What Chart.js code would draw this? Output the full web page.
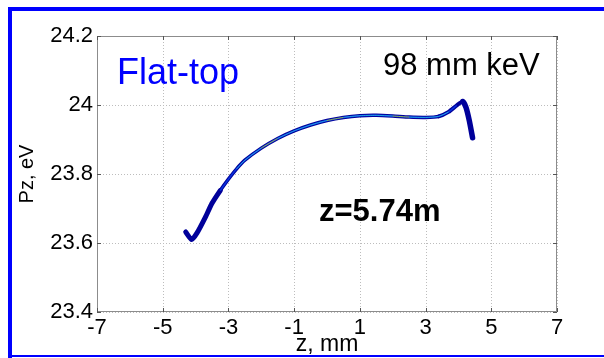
<!DOCTYPE html>
<html>
<head>
<meta charset="utf-8">
<script src="https://cdn.jsdelivr.net/npm/chart.js@4"></script>
<style>
  html, body { margin: 0; padding: 0; background: #fff; }
  #wrap { width: 604px; height: 358px; }
</style>
</head>
<body>
<div id="wrap"><canvas id="pzChart" width="604" height="358"></canvas></div>
<script>
// longitudinal phase space (band centre)
const zMm = [-4.30, -4.12, -3.95, -3.70, -3.50, -3.25, -3.00, -2.75, -2.50, -2.00, -1.50, -1.00, -0.50, 0.00, 0.50, 1.00, 1.50, 2.00, 2.50, 3.00, 3.40, 3.70, 3.95, 4.13, 4.23, 4.33, 4.43];
const pzEv = [23.632, 23.610, 23.630, 23.675, 23.715, 23.752, 23.785, 23.815, 23.840, 23.875, 23.903, 23.925, 23.942, 23.955, 23.964, 23.969, 23.970, 23.968, 23.965, 23.964, 23.967, 23.980, 23.999, 24.010, 23.993, 23.955, 23.905];

const xTicks = [-7, -5, -3, -1, 1, 3, 5, 7];
const xTickLabels = ['-7', '-5', '-3', '-1', '1', '3', '5', '7'];
const yTicks = [23.4, 23.6, 23.8, 24, 24.2];
const yTickLabels = ['23.4', '23.6', '23.8', '24', '24.2'];

const FONT = '"Liberation Sans", Arial, sans-serif';

const points = zMm.map((z, i) => ({ x: z, y: pzEv[i] }));
const peak = pzEv.indexOf(Math.max(...pzEv));

// band is thick at the ends, thinner in the middle
function bandWidth(ctx) {
    const i = ctx.p0DataIndex;
    if (i <= 4) return 5;
    if (i >= peak) return 5.5;
    if (i >= peak - 3) return 4;
    return 3.5;
}

const decorations = {
    id: 'decorations',
    beforeDraw(chart) {
        const c = chart.ctx;
        c.save();
        c.fillStyle = '#fff';
        c.fillRect(0, 0, chart.width, chart.height);
        c.restore();
    },
    beforeDatasetsDraw(chart) {
        // dotted grid, MATLAB style
        const c = chart.ctx;
        const a = chart.chartArea;
        const sx = chart.scales.x, sy = chart.scales.y;
        c.save();
        c.strokeStyle = '#bdbdbd';
        c.lineWidth = 1;
        c.setLineDash([1, 2]);
        c.beginPath();
        xTicks.forEach(v => {
            const px = Math.round(sx.getPixelForValue(v)) + 0.5;
            c.moveTo(px, a.top); c.lineTo(px, a.bottom);
        });
        yTicks.forEach(v => {
            const py = Math.round(sy.getPixelForValue(v)) + 0.5;
            c.moveTo(a.left, py); c.lineTo(a.right, py);
        });
        c.stroke();
        c.restore();
    },
    afterDraw(chart) {
        const c = chart.ctx;
        const a = chart.chartArea;
        const sx = chart.scales.x, sy = chart.scales.y;
        c.save();
        // axes box
        c.strokeStyle = '#8c8c8c';
        c.lineWidth = 1;
        c.strokeRect(a.left + 0.5, a.top + 0.5, a.right - a.left - 1, a.bottom - a.top - 1);
        // inward ticks
        c.strokeStyle = '#555';
        c.beginPath();
        xTicks.forEach(v => {
            const px = Math.round(sx.getPixelForValue(v)) + 0.5;
            c.moveTo(px, a.bottom); c.lineTo(px, a.bottom - 4);
            c.moveTo(px, a.top); c.lineTo(px, a.top + 4);
        });
        yTicks.forEach(v => {
            const py = Math.round(sy.getPixelForValue(v)) + 0.5;
            c.moveTo(a.left, py); c.lineTo(a.left + 4, py);
            c.moveTo(a.right, py); c.lineTo(a.right - 4, py);
        });
        c.stroke();

        // text labels
        c.textBaseline = 'alphabetic';
        c.textAlign = 'left';
        c.fillStyle = '#0000ff';
        c.font = '36px ' + FONT;
        c.fillText('Flat-top', 117, 84);
        c.fillStyle = '#000';
        c.font = '31px ' + FONT;
        c.fillText('98 mm keV', 383, 75);
        c.font = 'bold 31px ' + FONT;
        c.fillText('z=5.74m', 319, 221);

        // blue frame
        c.fillStyle = '#0000ff';
        c.fillRect(8, 7, chart.width - 8, 4);
        c.fillRect(8, 7, 4, 351);
        c.fillRect(8, 355, chart.width - 8, 2);
        c.restore();
    }
};

new Chart(document.getElementById('pzChart'), {
    type: 'line',
    data: {
        datasets: [
            {
                label: 'centre',
                data: points,
                borderWidth: 1,
                pointRadius: 0,
                tension: 0.2,
                segment: {
                    borderColor: ctx => {
                        const i = ctx.p0DataIndex;
                        if (i < 7 || i > peak - 3) return 'rgba(0,0,0,0)';
                        return (i % 4 === 1) ? 'rgba(170,205,60,0.85)' : 'rgba(40,200,230,0.75)';
                    }
                }
            },
            {
                label: 'core',
                data: points,
                borderWidth: 1.5,
                pointRadius: 0,
                tension: 0.2,
                segment: {
                    borderColor: ctx => (ctx.p0DataIndex >= 5 && ctx.p1DataIndex <= peak - 1) ? '#0a32dc' : 'rgba(0,0,0,0)'
                }
            },
            {
                label: 'beam',
                data: points,
                borderColor: '#00009a',
                pointRadius: 0,
                tension: 0.2,
                borderCapStyle: 'round',
                borderJoinStyle: 'round',
                segment: { borderWidth: bandWidth }
            }
        ]
    },
    options: {
        responsive: false,
        animation: false,
        events: [],
        layout: { padding: { top: 36, right: 47, bottom: 0, left: 0 } },
        plugins: {
            legend: { display: false },
            tooltip: { enabled: false }
        },
        scales: {
            x: {
                type: 'linear',
                min: -7,
                max: 7,
                afterBuildTicks: s => { s.ticks = xTicks.map(v => ({ value: v })); },
                afterFit: s => { s.height = 46; },
                ticks: {
                    autoSkip: false,
                    maxRotation: 0,
                    padding: 3,
                    color: '#000',
                    font: { family: FONT, size: 22 },
                    callback: v => xTickLabels[xTicks.indexOf(v)]
                },
                grid: { display: false, drawTicks: false },
                border: { display: false },
                title: {
                    display: true,
                    text: 'z, mm',
                    color: '#000',
                    font: { family: FONT, size: 23 },
                    padding: { top: 0, bottom: 0 }
                }
            },
            y: {
                type: 'linear',
                min: 23.4,
                max: 24.2,
                afterBuildTicks: s => { s.ticks = yTicks.map(v => ({ value: v })); },
                afterFit: s => { s.width = 97; },
                ticks: {
                    autoSkip: false,
                    padding: 4,
                    color: '#000',
                    font: { family: FONT, size: 22 },
                    callback: v => yTickLabels[yTicks.indexOf(v)]
                },
                grid: { display: false, drawTicks: false },
                border: { display: false },
                title: {
                    display: true,
                    text: 'Pz, eV',
                    color: '#000',
                    font: { family: FONT, size: 20 },
                    padding: { top: 15, bottom: 0 }
                }
            }
        }
    },
    plugins: [decorations]
});
</script>
</body>
</html>
